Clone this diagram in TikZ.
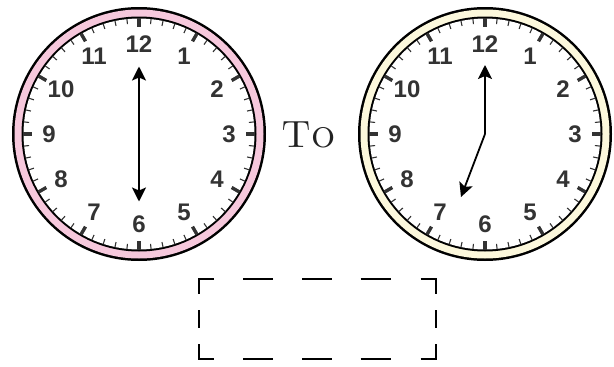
\documentclass[tikz,border=0pt]{standalone}
\usepackage{fontspec}
\newfontfamily\numfont{Liberation Sans}
\usetikzlibrary{arrows.meta}
\definecolor{ringpink}{HTML}{F6C8DC}
\definecolor{ringcream}{HTML}{FCF8DC}
\definecolor{numgray}{HTML}{333333}
\definecolor{tickgray}{HTML}{333333}
\definecolor{togray}{HTML}{222222}
\newcommand\clockface[2]{% #1 = centre name, #2 = ring colour
  \fill[black] (#1) circle (127pt);
  \fill[#2] (#1) circle (124.5pt);
  \fill[black] (#1) circle (117.5pt);
  \fill[white] (#1) circle (115.5pt);
  \begin{scope}[shift={(#1)}]
    \foreach \i in {0,...,59}{
      \pgfmathtruncatemacro\rem{mod(\i,5)}
      \ifnum\rem=0
        \draw[hourtick] (\i*6-90:116) -- (\i*6-90:107);
      \else
        \draw[mintick] (\i*6-90:116) -- (\i*6-90:110.5);
      \fi
    }
    \foreach \h in {1,...,12}{
      \node[num] (#1-\h) at (\h*30-90:90) {\h};
    }
  \end{scope}
}
\begin{document}
\begin{tikzpicture}[x=1pt,y=-1pt,
  hand/.style={line width=1.8pt, black, -{Stealth[length=14pt,width=14pt,inset=3pt]}},
  num/.style={font=\numfont\bfseries\fontsize{24}{24}\selectfont, text=numgray, inner sep=0pt},
  hourtick/.style={tickgray, line width=3.4pt},
  mintick/.style={tickgray, line width=1.1pt},
  dashbox/.style={black, line width=2pt, line cap=butt, line join=miter}]
\useasboundingbox (0,0) rectangle (614,367);

% left clock
\coordinate (L) at (139,134);
\clockface{L}{ringpink}
\coordinate (Ltop) at (139,66.5);
\coordinate (Lbot) at (139,201.5);
\draw[hand] (L) -- (Ltop);
\draw[hand] (L) -- (Lbot);

% right clock
\coordinate (R) at (485,134);
\clockface{R}{ringcream}
\coordinate (Rmin) at (485,65);
\coordinate (Rhour) at (461,197);
\draw[hand] (R) -- (Rmin);
\draw[hand] (R) -- (Rhour);

% "To"
\node[anchor=base west, inner sep=0pt, text=togray,
      font=\fontsize{38}{38}\selectfont] (to) at (281,147) {\textsc{To}};

% dashed answer box
\coordinate (bnw) at (198.5,278.5);
\coordinate (bse) at (435.5,359);
\draw[dashbox] (198.5,293.5) -- (bnw) -- (213.5,278.5);
\draw[dashbox] (420.5,278.5) -- (bnw -| bse) -- (435.5,293.5);
\draw[dashbox] (198.5,344) -- (bnw |- bse) -- (213.5,359);
\draw[dashbox] (420.5,359) -- (bse) -- (435.5,344);
\foreach \x in {258,317,375.5}{
  \draw[dashbox] (\x-15,278.5) -- (\x+15,278.5);
  \draw[dashbox] (\x-15,359) -- (\x+15,359);
}
\draw[dashbox] (198.5,310) -- (198.5,328);
\draw[dashbox] (435.5,310) -- (435.5,328);
\end{tikzpicture}
\end{document}
